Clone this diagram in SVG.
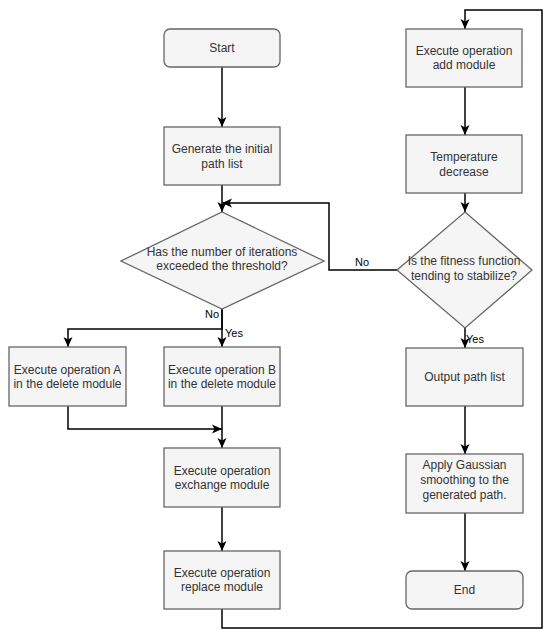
<svg xmlns="http://www.w3.org/2000/svg" width="550" height="636" viewBox="0 0 550 636">
<defs>
<style>
.n{fill:#f5f5f5;stroke:#666666;stroke-width:1.3}
.t{font-family:"Liberation Sans",Arial,sans-serif;font-size:12px;fill:#333333;text-anchor:middle}
.l{font-family:"Liberation Sans",Arial,sans-serif;font-size:11px;fill:#000000;text-anchor:middle}
.c{fill:none;stroke:#000000;stroke-width:1.5}
</style>
<marker id="a" markerUnits="userSpaceOnUse" markerWidth="12" markerHeight="12" viewBox="0 0 12 12" refX="10" refY="6" orient="auto">
<path d="M0,1.5 L10,6 L0,10.5 L2.5,6 Z" fill="#000000"/>
</marker>
</defs>
<rect width="550" height="636" fill="#ffffff"/>
<g id="connectors">
<path class="c" d="M222,67 V127" marker-end="url(#a)"/>
<path class="c" d="M222,185 V212" marker-end="url(#a)"/>
<path class="c" d="M222,309 V347" marker-end="url(#a)"/>
<path class="c" d="M222,309 V329 H68 V347" marker-end="url(#a)"/>
<path class="c" d="M68,406 V429 H222" marker-end="url(#a)"/>
<path class="c" d="M222,406 V448" marker-end="url(#a)"/>
<path class="c" d="M222,507 V551" marker-end="url(#a)"/>
<path class="c" d="M222,609 V628 H542 V10 H465 V29" marker-end="url(#a)"/>
<path class="c" d="M465,87 V135" marker-end="url(#a)"/>
<path class="c" d="M465,193 V212" marker-end="url(#a)"/>
<path class="c" d="M397,270 H329 V203 H222" marker-end="url(#a)"/>
<path class="c" d="M465,328 V348" marker-end="url(#a)"/>
<path class="c" d="M465,406 V454" marker-end="url(#a)"/>
<path class="c" d="M465,513 V571" marker-end="url(#a)"/>
<text class="l" x="362" y="266">No</text>
<text class="l" x="212" y="318">No</text>
<text class="l" x="234" y="337">Yes</text>
<text class="l" x="475" y="343">Yes</text>
</g>
<g id="start"><rect class="n" x="164" y="29" width="116" height="38" rx="6"/><text class="t" x="222" y="52">Start</text></g>
<g id="generate"><rect class="n" x="164" y="127" width="116" height="58"/><text class="t" x="222" y="153">Generate the initial</text><text class="t" x="222" y="168">path list</text></g>
<g id="decision1"><polygon class="n" points="222,212 324,261 222,309 121,261"/><text class="t" x="222" y="256">Has the number of iterations</text><text class="t" x="222" y="270">exceeded the threshold?</text></g>
<g id="opA"><rect class="n" x="9" y="347" width="117" height="59"/><text class="t" x="67.5" y="374">Execute operation A</text><text class="t" x="67.5" y="388">in the delete module</text></g>
<g id="opB"><rect class="n" x="164" y="347" width="116" height="59"/><text class="t" x="222" y="374">Execute operation B</text><text class="t" x="222" y="388">in the delete module</text></g>
<g id="exchange"><rect class="n" x="164" y="448" width="116" height="59"/><text class="t" x="222" y="475">Execute operation</text><text class="t" x="222" y="489">exchange module</text></g>
<g id="replace"><rect class="n" x="164" y="551" width="116" height="58"/><text class="t" x="222" y="577">Execute operation</text><text class="t" x="222" y="591">replace module</text></g>
<g id="add"><rect class="n" x="406" y="29" width="116" height="58"/><text class="t" x="464" y="55">Execute operation</text><text class="t" x="464" y="69">add module</text></g>
<g id="temperature"><rect class="n" x="406" y="135" width="116" height="58"/><text class="t" x="464" y="161">Temperature</text><text class="t" x="464" y="176">decrease</text></g>
<g id="decision2"><polygon class="n" points="465,212 532,270 465,328 397,270"/><text class="t" x="464" y="265">Is the fitness function</text><text class="t" x="464" y="280">tending to stabilize?</text></g>
<g id="output"><rect class="n" x="406" y="348" width="117" height="58"/><text class="t" x="464.5" y="381">Output path list</text></g>
<g id="gaussian"><rect class="n" x="406" y="454" width="117" height="59"/><text class="t" x="464.5" y="469">Apply Gaussian</text><text class="t" x="464.5" y="484">smoothing to the</text><text class="t" x="464.5" y="499">generated path.</text></g>
<g id="end"><rect class="n" x="406" y="571" width="117" height="38" rx="6"/><text class="t" x="464.5" y="594">End</text></g>
</svg>
